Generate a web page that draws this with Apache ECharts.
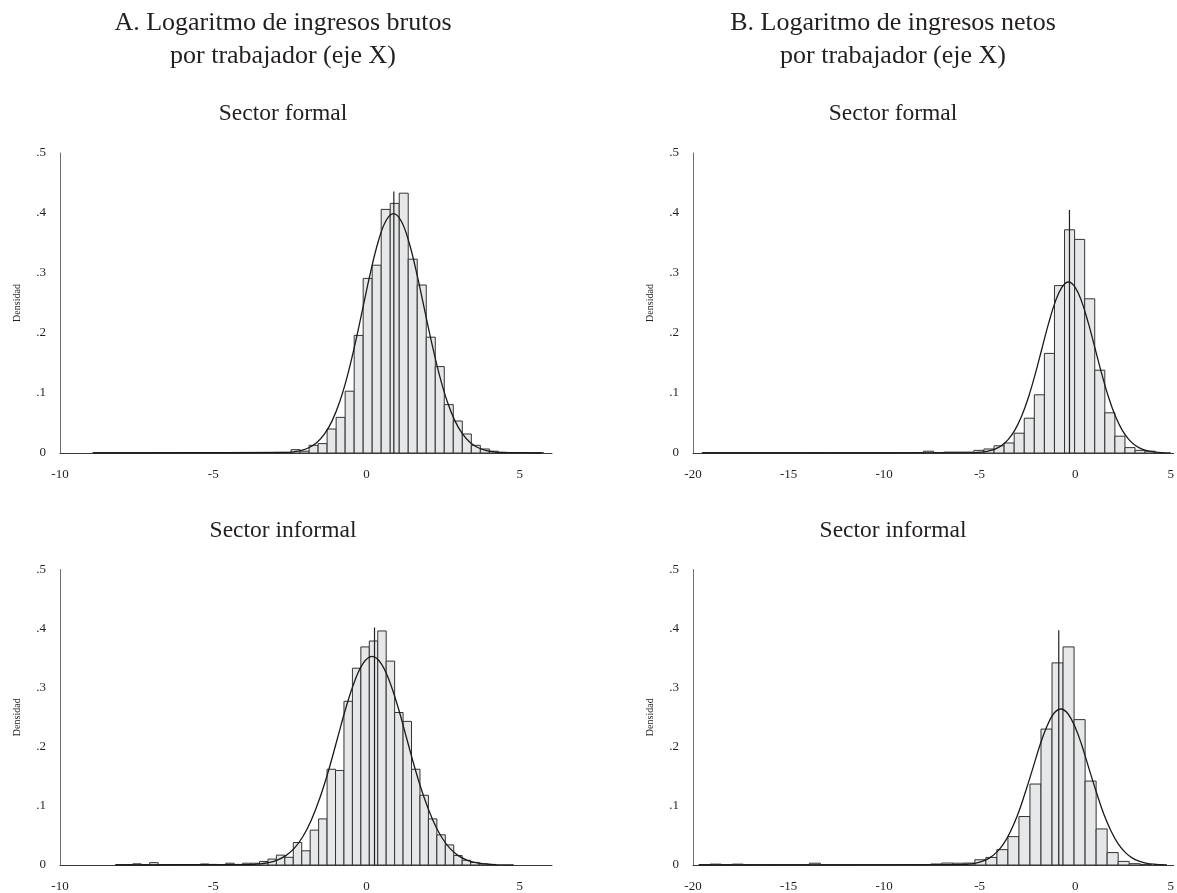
<!DOCTYPE html>
<html>
<head>
<meta charset="utf-8">
<script src="https://cdn.jsdelivr.net/npm/echarts@6/dist/echarts.min.js"></script>
<style>
  html, body { margin: 0; padding: 0; background: #fff; }
  #chart { width: 1177px; height: 893px; }
</style>
</head>
<body>
<div id="chart"></div>
<script>
// ---------------- DATA ----------------
const titleA = ['A. Logaritmo de ingresos brutos', 'por trabajador (eje X)'];
const titleB = ['B. Logaritmo de ingresos netos', 'por trabajador (eje X)'];
const rowTitles = ['Sector formal', 'Sector informal'];
const yAxisTitle = 'Densidad';

const xTicksA = [-10, -5, 0, 5];
const xTicksB = [-20, -15, -10, -5, 0, 5];
const yTicks = [0, 0.1, 0.2, 0.3, 0.4, 0.5];

// Panel A, sector formal: histogram bins (first left edge, bin width, densities)
const aFormalBinStart = -8.93;
const aFormalBinWidth = 0.294;
const aFormalDensity = [
  0.0008, 0.0006, 0.0008, 0.0006, 0.0008, 0.0008, 0.0006, 0.0008, 0.0006, 0.0006,
  0.0008, 0.0008, 0.0006, 0.0006, 0.0008, 0.0006, 0.0008, 0.0008, 0.0006, 0.0008,
  0.0010, 0.0010, 0.0056, 0.0030, 0.0128, 0.0156, 0.0400, 0.0594, 0.1030, 0.1960,
  0.2910, 0.3130, 0.4060, 0.4160, 0.4330, 0.3230, 0.2800, 0.1930, 0.1440, 0.0806,
  0.0533, 0.0317, 0.0128, 0.0067, 0.0030, 0.0010, 0.0008, 0.0006, 0.0006, 0.0006
];
const aFormalCurveX = [-8.9, -2.62, -2.37, -2.12, -1.87, -1.62, -1.37, -1.12, -0.87, -0.62, -0.37, -0.12, 0.13, 0.38, 0.63,
  0.88, 1.13, 1.38, 1.63, 1.88, 2.13, 2.38, 2.63, 2.88, 3.13, 3.38, 3.63, 3.88, 4.13, 4.38, 5.7];
const aFormalCurveY = [0, 0.0009, 0.0020, 0.0044, 0.0091, 0.0175, 0.0317, 0.0540, 0.0863, 0.1295, 0.1826, 0.2420, 0.3011, 0.3521, 0.3867,
  0.3989, 0.3867, 0.3521, 0.3011, 0.2420, 0.1826, 0.1295, 0.0863, 0.0540, 0.0317, 0.0175, 0.0091, 0.0044, 0.0020, 0.0009, 0];
const aFormalSpike = [0.89, 0.436];

// Panel A, sector informal
const aInformalBinStart = -8.175;
const aInformalBinWidth = 0.2755;
const aInformalDensity = [
  0.0008, 0.0008, 0.0020, 0.0008, 0.0040, 0.0008, 0.0008, 0.0008, 0.0008, 0.0008,
  0.0017, 0.0010, 0.0008, 0.0030, 0.0010, 0.0030, 0.0030, 0.0060, 0.0100, 0.0167,
  0.0130, 0.0380, 0.0240, 0.0590, 0.0780, 0.1620, 0.1600, 0.2770, 0.3330, 0.3690,
  0.3790, 0.3960, 0.3450, 0.2580, 0.2430, 0.1620, 0.1180, 0.0780, 0.0510, 0.0340,
  0.0160, 0.0080, 0.0044, 0.0020, 0.0010
];
const aInformalCurveX = [-8.2, -3.775, -3.49, -3.21, -2.93, -2.645, -2.36, -2.08, -1.80, -1.515, -1.23, -0.95, -0.67, -0.385, -0.10,
  0.18, 0.46, 0.745, 1.03, 1.31, 1.59, 1.875, 2.16, 2.44, 2.72, 3.005, 3.29, 3.57, 3.85, 4.135, 4.8];
const aInformalCurveY = [0, 0.0008, 0.0018, 0.0039, 0.0080, 0.0155, 0.0281, 0.0478, 0.0763, 0.1146, 0.1616, 0.2141, 0.2665, 0.3115, 0.3421,
  0.3530, 0.3421, 0.3115, 0.2665, 0.2141, 0.1616, 0.1146, 0.0763, 0.0478, 0.0281, 0.0155, 0.0080, 0.0039, 0.0018, 0.0008, 0];
const aInformalSpike = [0.26, 0.402];

// Panel B, sector formal
const bFormalBinStart = -19.53;
const bFormalBinWidth = 0.527;
const bFormalDensity = [
  0.0006, 0.0006, 0.0006, 0.0006, 0.0006, 0.0006, 0.0006, 0.0006, 0.0006, 0.0006,
  0.0006, 0.0006, 0.0006, 0.0006, 0.0006, 0.0006, 0.0006, 0.0006, 0.0006, 0.0006,
  0.0006, 0.0008, 0.0030, 0.0008, 0.0015, 0.0015, 0.0015, 0.0044, 0.0067, 0.0120,
  0.0167, 0.0330, 0.0580, 0.0970, 0.1660, 0.2790, 0.3720, 0.3560, 0.2570, 0.1380,
  0.0670, 0.0280, 0.0090, 0.0044, 0.0030
];
const bFormalCurveX = [-19.5, -5.25, -4.9, -4.55, -4.2, -3.85, -3.5, -3.15, -2.8, -2.45, -2.1, -1.75, -1.4, -1.05, -0.7,
  -0.35, 0, 0.35, 0.7, 1.05, 1.4, 1.75, 2.1, 2.45, 2.8, 3.15, 3.5, 3.85, 4.2, 4.55, 5.0];
const bFormalCurveY = [0, 0.0006, 0.0014, 0.0032, 0.0065, 0.0125, 0.0227, 0.0386, 0.0616, 0.0925, 0.1305, 0.1729, 0.2151, 0.2515, 0.2762,
  0.2850, 0.2762, 0.2515, 0.2151, 0.1729, 0.1305, 0.0925, 0.0616, 0.0386, 0.0227, 0.0125, 0.0065, 0.0032, 0.0014, 0.0006, 0.0002];
const bFormalSpike = [-0.30, 0.405];

// Panel B, sector informal
const bInformalBinStart = -19.677;
const bInformalBinWidth = 0.577;
const bInformalDensity = [
  0.0008, 0.0015, 0.0008, 0.0015, 0.0006, 0.0006, 0.0006, 0.0006, 0.0006, 0.0006,
  0.0030, 0.0006, 0.0006, 0.0006, 0.0006, 0.0006, 0.0006, 0.0006, 0.0006, 0.0008,
  0.0008, 0.0017, 0.0033, 0.0030, 0.0033, 0.0089, 0.0128, 0.0260, 0.0480, 0.0820,
  0.1370, 0.2300, 0.3420, 0.3690, 0.2460, 0.1420, 0.0610, 0.0210, 0.0061, 0.0022,
  0.0010
];
const bInformalCurveX = [-19.7, -6.0, -5.63, -5.25, -4.88, -4.5, -4.13, -3.75, -3.38, -3.0, -2.63, -2.25, -1.88, -1.5, -1.13,
  -0.75, -0.38, 0, 0.38, 0.75, 1.13, 1.5, 1.88, 2.25, 2.63, 3.0, 3.38, 3.75, 4.13, 4.5, 4.8];
const bInformalCurveY = [0, 0.0006, 0.0013, 0.0029, 0.0060, 0.0116, 0.0210, 0.0357, 0.0571, 0.0857, 0.1209, 0.1601, 0.1993, 0.2330, 0.2559,
  0.2640, 0.2559, 0.2330, 0.1993, 0.1601, 0.1209, 0.0857, 0.0571, 0.0357, 0.0210, 0.0116, 0.0060, 0.0029, 0.0013, 0.0006, 0.0002];
const bInformalSpike = [-0.86, 0.397];

// ---------------- STYLE / LAYOUT ----------------
const SERIF = '"Liberation Serif", "Times New Roman", serif';
const TEXT = '#231f20';
const BAR_FILL = '#e6e7e8';
const BAR_EDGE = '#333333';

const panels = [
  { start: aFormalBinStart, width: aFormalBinWidth, dens: aFormalDensity, cx: aFormalCurveX, cy: aFormalCurveY, spike: aFormalSpike,
    grid: { left: 60, top: 153, width: 492, height: 300 }, xmin: -10, xmax: 6.05, ticks: xTicksA },
  { start: bFormalBinStart, width: bFormalBinWidth, dens: bFormalDensity, cx: bFormalCurveX, cy: bFormalCurveY, spike: bFormalSpike,
    grid: { left: 693, top: 153, width: 482, height: 300 }, xmin: -20, xmax: 5.15, ticks: xTicksB },
  { start: aInformalBinStart, width: aInformalBinWidth, dens: aInformalDensity, cx: aInformalCurveX, cy: aInformalCurveY, spike: aInformalSpike,
    grid: { left: 60, top: 569.5, width: 492, height: 300 }, xmin: -10, xmax: 6.05, ticks: xTicksA },
  { start: bInformalBinStart, width: bInformalBinWidth, dens: bInformalDensity, cx: bInformalCurveX, cy: bInformalCurveY, spike: bInformalSpike,
    grid: { left: 693, top: 569.5, width: 482, height: 300 }, xmin: -20, xmax: 5.15, ticks: xTicksB }
];

const grids = [], xAxes = [], yAxes = [], series = [];

function fmtY(v) {
  if (Math.abs(v) < 1e-9) return '0';
  return String(Math.round(v * 10) / 10).replace(/^0\./, '.');
}

panels.forEach((p, i) => {
  grids.push(Object.assign({ containLabel: false }, p.grid));
  xAxes.push({
    type: 'value', gridIndex: i, min: p.xmin, max: p.xmax,
    axisLine: { show: true, onZero: false, lineStyle: { color: '#3a3a3a', width: 1 } },
    axisTick: { show: false },
    splitLine: { show: false },
    axisLabel: { customValues: p.ticks, fontFamily: SERIF, fontSize: 13, color: TEXT, margin: 15 }
  });
  yAxes.push({
    type: 'value', gridIndex: i, min: 0, max: 0.5, interval: 0.1,
    name: yAxisTitle, nameLocation: 'middle', nameGap: 38,
    nameTextStyle: { fontFamily: SERIF, fontSize: 10, color: TEXT },
    axisLine: { show: true, onZero: false, lineStyle: { color: '#6d6e70', width: 1 } },
    axisTick: { show: false },
    splitLine: { show: false },
    axisLabel: { customValues: yTicks, formatter: fmtY, fontFamily: SERIF, fontSize: 13, color: TEXT, margin: 14 }
  });
  const bins = p.dens.map((d, k) => [p.start + k * p.width, p.start + (k + 1) * p.width, d]);
  series.push({
    type: 'custom', xAxisIndex: i, yAxisIndex: i, data: bins,
    encode: { x: [0, 1], y: 2 }, clip: true, silent: true,
    renderItem: function (params, api) {
      const a = api.coord([api.value(0), api.value(2)]);
      const b = api.coord([api.value(1), 0]);
      return {
        type: 'rect',
        shape: { x: a[0], y: a[1], width: b[0] - a[0], height: b[1] - a[1] },
        style: { fill: BAR_FILL, stroke: BAR_EDGE, lineWidth: 1 }
      };
    }
  });
  series.push({
    type: 'line', xAxisIndex: i, yAxisIndex: i, symbol: 'none', silent: true,
    data: [[p.spike[0], 0], [p.spike[0], p.spike[1]]],
    lineStyle: { color: '#231f20', width: 1.2 }
  });
  series.push({
    type: 'line', xAxisIndex: i, yAxisIndex: i, symbol: 'none', silent: true,
    smooth: 0.4,
    data: p.cx.map((x, k) => [x, p.cy[k]]),
    lineStyle: { color: '#1a1a1a', width: 1.3 }
  });
});

function label(text, x, y, size) {
  return { type: 'text', x: x, y: y, silent: true,
    style: { text: text, fontFamily: SERIF, fontSize: size, fill: TEXT, align: 'center', verticalAlign: 'middle' } };
}

const graphics = [
  label(titleA[0], 283, 23, 26), label(titleA[1], 283, 56, 26),
  label(titleB[0], 893, 23, 26), label(titleB[1], 893, 56, 26),
  label(rowTitles[0], 283, 114, 23.5), label(rowTitles[0], 893, 114, 23.5),
  label(rowTitles[1], 283, 531, 23.5), label(rowTitles[1], 893, 531, 23.5)
];

const chart = echarts.init(document.getElementById('chart'), null, { renderer: 'canvas' });
chart.setOption({
  animation: false,
  backgroundColor: '#ffffff',
  grid: grids, xAxis: xAxes, yAxis: yAxes, series: series,
  graphic: graphics
});
</script>
</body>
</html>
